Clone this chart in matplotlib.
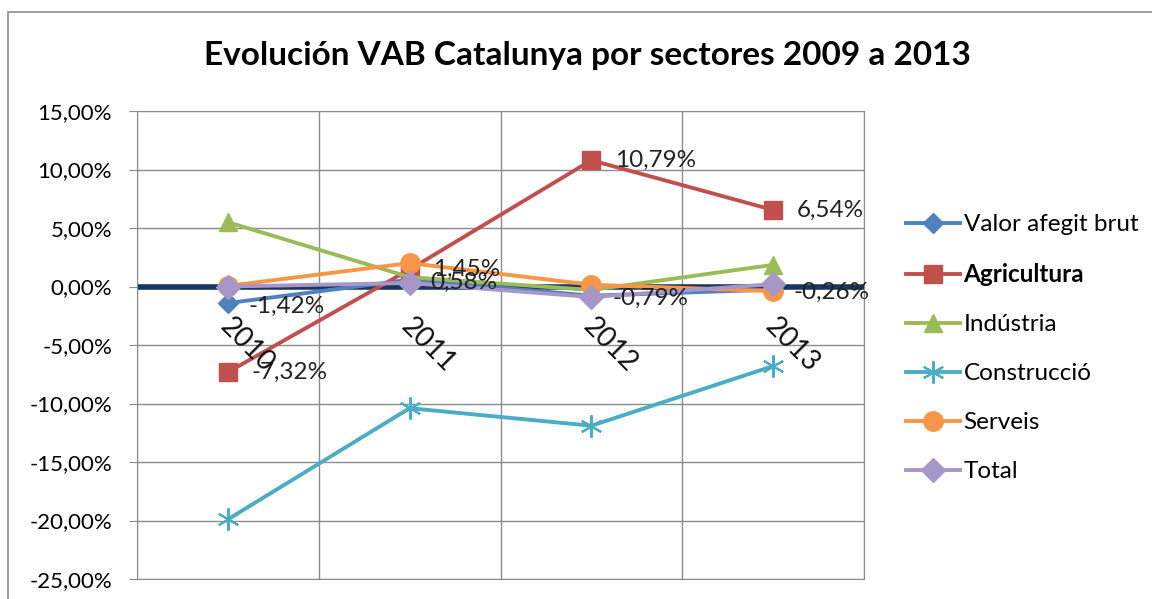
import matplotlib
matplotlib.use("Agg")
import matplotlib.pyplot as plt
from matplotlib.patches import Rectangle
from matplotlib.ticker import FuncFormatter

plt.rcParams['font.family'] = ['Lato', 'DejaVu Sans']

years = ['2010', '2011', '2012', '2013']
vab = [-1.42, 0.58, -0.79, -0.26]
agricultura = [-7.32, 1.45, 10.79, 6.54]
industria = [5.5, 0.8, -0.3, 1.85]
construccio = [-19.9, -10.4, -11.9, -6.8]
serveis = [0.05, 2.0, 0.15, -0.4]
total = [0.0, 0.3, -0.9, 0.2]

vab_labels = ['-1,42%', '0,58%', '-0,79%', '-0,26%']
agri_labels = ['-7,32%', '1,45%', '10,79%', '6,54%']

fig = plt.figure(figsize=(11.52, 5.99), dpi=100)
fig.patches.append(Rectangle((8 / 1152, -0.1), 1.2, 1.1 - 12 / 599, transform=fig.transFigure,
                             fill=False, edgecolor='#8c8c8c', linewidth=1.2))
ax = fig.add_axes([137 / 1152, 1 - 579 / 599, (864 - 137) / 1152, (579 - 111) / 599])

x = list(range(len(years)))
ax.axhline(0, color='#17375E', lw=4, zorder=2)

series = [
    ('Valor afegit brut', vab, '#4F81BD', 'D', 10),
    ('Agricultura', agricultura, '#C0504D', 's', 13),
    ('Indústria', industria, '#9BBB59', '^', 13),
    ('Construcció', construccio, '#4BACC6', (6, 2, 0), 16),
    ('Serveis', serveis, '#F79646', 'o', 14),
    ('Total', total, '#A797C8', 'D', 12),
]
for name, vals, col, mk, ms in series:
    kw = dict(markeredgewidth=1.5) if mk == (6, 2, 0) else {}
    ax.plot(x, vals, color=col, lw=2.8, marker=mk, markersize=ms, label=name, zorder=3, **kw)

for xi, v, t in zip(x, vab, vab_labels):
    ax.annotate(t, (xi, v), xytext=(15, -2), textcoords='offset points', va='center',
                ha='left', fontsize=17.5, color='#222222', zorder=5)
for xi, v, t in zip(x, agricultura, agri_labels):
    ax.annotate(t, (xi, v), xytext=(17, 0), textcoords='offset points', va='center',
                ha='left', fontsize=17.5, color='#222222', zorder=5)

ax.set_xlim(-0.5, 3.5)
ax.set_ylim(-25, 15)
ax.set_yticks(range(-25, 16, 5))
ax.yaxis.set_major_formatter(FuncFormatter(lambda v, p: f'{v:.2f}%'.replace('.', ',')))
ax.set_xticks([-0.5, 0.5, 1.5, 2.5, 3.5])
ax.set_xticklabels([])
ax.tick_params(axis='x', length=0)
ax.tick_params(axis='y', labelsize=16, length=6, color='#868686', pad=12)
ax.grid(True, color='#8c8c8c', lw=1)
for s in ax.spines.values():
    s.set_color('#8c8c8c')

for xi, yr in zip(x, years):
    ax.text(xi + 0.03, -2.3, yr, rotation=-45, rotation_mode='anchor', ha='left', va='top',
            fontsize=20, color='#111111', zorder=6)

fig.text(587 / 1152, 1 - 55 / 599, 'Evolución VAB Catalunya por sectores 2009 a 2013',
         ha='center', va='center', fontsize=24, fontweight='bold')

leg = ax.legend(loc='upper left', bbox_to_anchor=(1.045, 0.80), frameon=False, fontsize=17.5,
                handlelength=2.2, handletextpad=0.15, labelspacing=1.15, borderaxespad=0)
for txt in leg.get_texts():
    if txt.get_text() == 'Agricultura':
        txt.set_fontweight('bold')

fig.savefig('out.png', dpi=100)
